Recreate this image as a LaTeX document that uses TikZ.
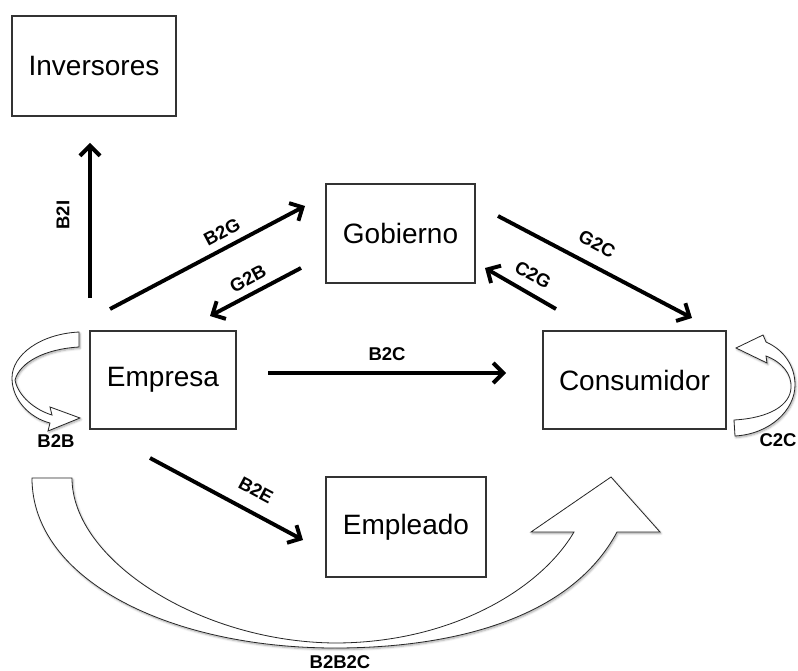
\documentclass[tikz,border=0pt]{standalone}
\usepackage{fontspec}
\setmainfont{Liberation Sans}
\usetikzlibrary{arrows.meta,shadows.blur}
\begin{document}
\begin{tikzpicture}[x=1pt,y=-1pt,
  box/.style={draw=black!80, line width=1.1pt, inner sep=0pt,
    font=\fontsize{28}{31}\selectfont},
  lbl/.style={font=\bfseries\fontsize{18.5}{21}\selectfont, inner sep=0pt},
  conn/.style={line width=3.9pt, -{Straight Barb[length=10pt,width=20pt]}},
  blockarrow/.style={draw=black!85, line width=0.8pt, fill=white,
    blur shadow={shadow xshift=1pt, shadow yshift=-1.5pt, shadow blur steps=6, shadow opacity=35}}
]
\useasboundingbox (0,0) rectangle (798,671);

% boxes
\node[box, minimum width=164pt, minimum height=100pt] (inv) at (94,66) {Inversores};
\node[box, minimum width=149pt, minimum height=99pt] (gob) at (400.5,233.5) {Gobierno};
\node[box, minimum width=146pt, minimum height=98pt] (emp) at (163,380) {Empresa};
\node[box, minimum width=183pt, minimum height=98pt] (con) at (634.5,380) {Consumidor};
\node[box, minimum width=160pt, minimum height=100pt] (empl) at (406,527) {Empleado};

% connector end points
\coordinate (b2i-s) at (90,298);  \coordinate (b2i-e) at (90,143);
\coordinate (b2g-s) at (110,309); \coordinate (b2g-e) at (305,206);
\coordinate (g2b-s) at (301,268); \coordinate (g2b-e) at (210,316);
\coordinate (g2c-s) at (498,216); \coordinate (g2c-e) at (692,318);
\coordinate (c2g-s) at (556,309); \coordinate (c2g-e) at (485,268);
\coordinate (b2c-s) at (268,373); \coordinate (b2c-e) at (506,373);
\coordinate (b2e-s) at (150,458); \coordinate (b2e-e) at (303,540);

\draw[conn] (b2i-s) -- (b2i-e);
\draw[conn] (b2g-s) -- (b2g-e);
\draw[conn] (g2b-s) -- (g2b-e);
\draw[conn] (g2c-s) -- (g2c-e);
\draw[conn] (c2g-s) -- (c2g-e);
\draw[conn] (b2c-s) -- (b2c-e);
\draw[conn] (b2e-s) -- (b2e-e);

% labels
\node[lbl, rotate=90] (lb2i) at (63,215) {B2I};
\node[lbl, rotate=28] (lb2g) at (222,232) {B2G};
\node[lbl, rotate=28] (lg2b) at (248,279) {G2B};
\node[lbl, rotate=-28] (lg2c) at (597,244) {G2C};
\node[lbl, rotate=-29] (lc2g) at (533,275) {C2G};
\node[lbl] (lb2c) at (387,354) {B2C};
\node[lbl, rotate=-28] (lb2e) at (256,490) {B2E};
\node[lbl] (lb2b) at (56,441) {B2B};
\node[lbl] (lc2c) at (778,440) {C2C};
\node[lbl] (lb2b2c) at (340,662) {B2B2C};

% B2B loop arrow
\path[blockarrow] (79,332) .. controls (40,334) and (12,355) .. (12,378)
  .. controls (12,400) and (30,418) .. (50,423)
  -- (48,431) -- (80,418) -- (50,407) -- (52,415)
  .. controls (35,410) and (18,396) .. (15,380)
  .. controls (20,362) and (45,349) .. (79,347) -- cycle;

% C2C loop arrow
\path[blockarrow] (734,420) .. controls (770,418) and (790,405) .. (791,388)
  .. controls (792,374) and (782,362) .. (766,356)
  -- (767,363) -- (736,348) -- (763,335) -- (766,342)
  .. controls (784,350) and (795,366) .. (795,385)
  .. controls (795,410) and (770,434) .. (735,436) -- cycle;

% B2B2C arrow
\path[blockarrow] (32,478) -- (72,478)
  .. controls (72,560) and (200,642) .. (335,643)
  .. controls (450,643) and (540,590) .. (574,532)
  -- (531,532) -- (611,477) -- (660,532) -- (617,532)
  .. controls (570,620) and (450,648) .. (335,648)
  .. controls (170,648) and (32,580) .. (32,478) -- cycle;
\end{tikzpicture}
\end{document}
